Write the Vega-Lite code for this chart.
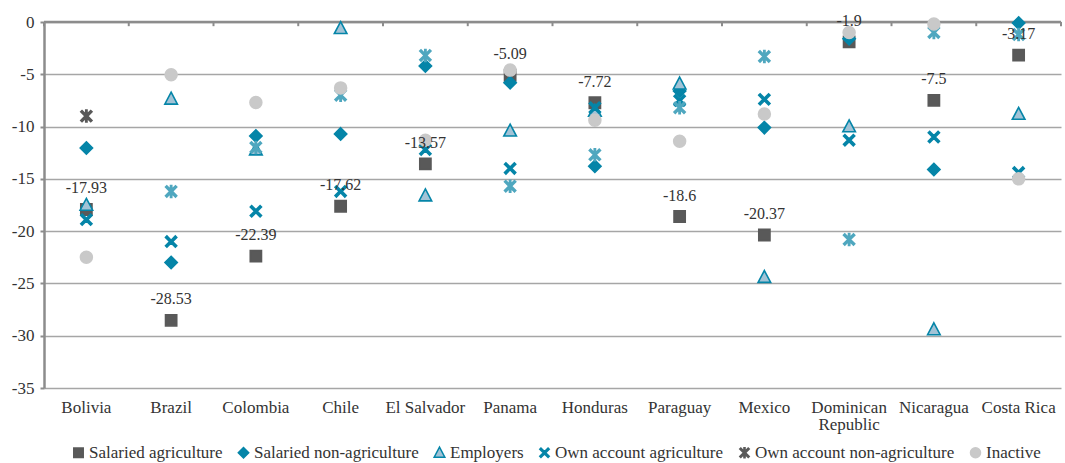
{
  "$schema": "https://vega.github.io/schema/vega-lite/v6.json",
  "width": 1017,
  "height": 366,
  "autosize": {"type": "none"},
  "padding": {"left": 44, "top": 22, "right": 4, "bottom": 75},
  "background": "white",
  "config": {
    "view": {"stroke": null},
    "font": "Liberation Serif, DejaVu Serif, serif",
    "axisY": {
      "title": null, "values": [-35, -30, -25, -20, -15, -10, -5, 0],
      "grid": true, "gridColor": "#a6a6a6", "gridWidth": 1.3,
      "domain": true, "domainColor": "#8c8c8c", "domainWidth": 2.5,
      "ticks": true, "tickColor": "#8c8c8c", "tickSize": 4, "tickWidth": 2,
      "labelFont": "Liberation Serif, DejaVu Serif, serif", "labelFontSize": 17, "labelColor": "#333333",
      "labelPadding": 6
    },
    "axisX": {
      "title": null, "domain": false, "ticks": false, "grid": false,
      "labelAngle": 0, "labelFont": "Liberation Serif, DejaVu Serif, serif", "labelFontSize": 17,
      "labelColor": "#333333", "labelPadding": 11, "labelLineHeight": 17
    },
    "legend": {
      "orient": "none",
      "legendX": 26,
      "legendY": 422,
      "direction": "horizontal",
      "title": null,
      "labelFont": "Liberation Serif, DejaVu Serif, serif",
      "labelFontSize": 17,
      "labelColor": "#333333",
      "labelLimit": 400,
      "symbolSize": 140,
      "symbolStrokeWidth": 1.5,
      "labelOffset": 2,
      "columnPadding": 12,
      "padding": 0
    }
  },
  "data": {
    "values": [
      {"country": "Bolivia", "series": "Salaried agriculture", "value": -17.93},
      {"country": "Brazil", "series": "Salaried agriculture", "value": -28.53},
      {"country": "Colombia", "series": "Salaried agriculture", "value": -22.39},
      {"country": "Chile", "series": "Salaried agriculture", "value": -17.62},
      {"country": "El Salvador", "series": "Salaried agriculture", "value": -13.57},
      {"country": "Panama", "series": "Salaried agriculture", "value": -5.09},
      {"country": "Honduras", "series": "Salaried agriculture", "value": -7.72},
      {"country": "Paraguay", "series": "Salaried agriculture", "value": -18.6},
      {"country": "Mexico", "series": "Salaried agriculture", "value": -20.37},
      {"country": "Dominican Republic", "series": "Salaried agriculture", "value": -1.9},
      {"country": "Nicaragua", "series": "Salaried agriculture", "value": -7.5},
      {"country": "Costa Rica", "series": "Salaried agriculture", "value": -3.17},

      {"country": "Bolivia", "series": "Salaried non-agriculture", "value": -12.05},
      {"country": "Brazil", "series": "Salaried non-agriculture", "value": -23.0},
      {"country": "Colombia", "series": "Salaried non-agriculture", "value": -10.9},
      {"country": "Chile", "series": "Salaried non-agriculture", "value": -10.7},
      {"country": "El Salvador", "series": "Salaried non-agriculture", "value": -4.2},
      {"country": "Panama", "series": "Salaried non-agriculture", "value": -5.8},
      {"country": "Honduras", "series": "Salaried non-agriculture", "value": -13.8},
      {"country": "Paraguay", "series": "Salaried non-agriculture", "value": -6.6},
      {"country": "Mexico", "series": "Salaried non-agriculture", "value": -10.1},
      {"country": "Dominican Republic", "series": "Salaried non-agriculture", "value": -1.6},
      {"country": "Nicaragua", "series": "Salaried non-agriculture", "value": -14.1},
      {"country": "Costa Rica", "series": "Salaried non-agriculture", "value": -0.1},

      {"country": "Bolivia", "series": "Employers", "value": -17.5},
      {"country": "Brazil", "series": "Employers", "value": -7.35},
      {"country": "Colombia", "series": "Employers", "value": -12.2},
      {"country": "Chile", "series": "Employers", "value": -0.6},
      {"country": "El Salvador", "series": "Employers", "value": -16.6},
      {"country": "Panama", "series": "Employers", "value": -10.4},
      {"country": "Honduras", "series": "Employers", "value": -8.5},
      {"country": "Paraguay", "series": "Employers", "value": -5.9},
      {"country": "Mexico", "series": "Employers", "value": -24.4},
      {"country": "Dominican Republic", "series": "Employers", "value": -10.0},
      {"country": "Nicaragua", "series": "Employers", "value": -29.4},
      {"country": "Costa Rica", "series": "Employers", "value": -8.8},

      {"country": "Bolivia", "series": "Own account agriculture", "value": -18.9},
      {"country": "Brazil", "series": "Own account agriculture", "value": -21.0},
      {"country": "Colombia", "series": "Own account agriculture", "value": -18.1},
      {"country": "Chile", "series": "Own account agriculture", "value": -16.2},
      {"country": "El Salvador", "series": "Own account agriculture", "value": -12.2},
      {"country": "Panama", "series": "Own account agriculture", "value": -14.0},
      {"country": "Honduras", "series": "Own account agriculture", "value": -8.2},
      {"country": "Paraguay", "series": "Own account agriculture", "value": -7.5},
      {"country": "Mexico", "series": "Own account agriculture", "value": -7.4},
      {"country": "Dominican Republic", "series": "Own account agriculture", "value": -11.3},
      {"country": "Nicaragua", "series": "Own account agriculture", "value": -11.0},
      {"country": "Costa Rica", "series": "Own account agriculture", "value": -14.4},

      {"country": "Bolivia", "series": "Own account non-agriculture", "value": -9.0},
      {"country": "Brazil", "series": "Own account non-agriculture", "value": -16.2},
      {"country": "Colombia", "series": "Own account non-agriculture", "value": -12.0},
      {"country": "Chile", "series": "Own account non-agriculture", "value": -7.0},
      {"country": "El Salvador", "series": "Own account non-agriculture", "value": -3.2},
      {"country": "Panama", "series": "Own account non-agriculture", "value": -15.7},
      {"country": "Honduras", "series": "Own account non-agriculture", "value": -12.7},
      {"country": "Paraguay", "series": "Own account non-agriculture", "value": -8.2},
      {"country": "Mexico", "series": "Own account non-agriculture", "value": -3.3},
      {"country": "Dominican Republic", "series": "Own account non-agriculture", "value": -20.8},
      {"country": "Nicaragua", "series": "Own account non-agriculture", "value": -1.0},
      {"country": "Costa Rica", "series": "Own account non-agriculture", "value": -1.2},

      {"country": "Bolivia", "series": "Inactive", "value": -22.5},
      {"country": "Brazil", "series": "Inactive", "value": -5.05},
      {"country": "Colombia", "series": "Inactive", "value": -7.7},
      {"country": "Chile", "series": "Inactive", "value": -6.3},
      {"country": "El Salvador", "series": "Inactive", "value": -11.3},
      {"country": "Panama", "series": "Inactive", "value": -4.6},
      {"country": "Honduras", "series": "Inactive", "value": -9.4},
      {"country": "Paraguay", "series": "Inactive", "value": -11.4},
      {"country": "Mexico", "series": "Inactive", "value": -8.8},
      {"country": "Dominican Republic", "series": "Inactive", "value": -1.0},
      {"country": "Nicaragua", "series": "Inactive", "value": -0.2},
      {"country": "Costa Rica", "series": "Inactive", "value": -15.0}
    ]
  },
  "layer": [
    {
      "transform": [{"filter": "datum.series == 'Salaried agriculture' && datum.country == 'Bolivia'"}],
      "mark": {"type": "rule", "color": "#8c8c8c", "strokeWidth": 2.5},
      "encoding": {
        "y": {"datum": 0, "type": "quantitative", "scale": {"domain": [-35, 0], "nice": false, "zero": false}, "axis": {"labelExpr": "'' + datum.value"}}
      }
    },
    {
      "transform": [{"filter": "datum.series == 'Salaried agriculture'"}],
      "mark": {"type": "rule", "color": "#8c8c8c", "strokeWidth": 2},
      "encoding": {
        "x": {"field": "country", "type": "nominal", "sort": null, "bandPosition": 0,
              "axis": {"labelExpr": "datum.label == 'Dominican Republic' ? ['Dominican', 'Republic'] : datum.label"}},
        "y": {"datum": 0, "type": "quantitative", "axis": {"labelExpr": "'' + datum.value"}},
        "y2": {"datum": -0.4}
      }
    },
    {
      "transform": [{"filter": "datum.series == 'Salaried agriculture' && datum.country == 'Costa Rica'"}],
      "mark": {"type": "rule", "color": "#8c8c8c", "strokeWidth": 2},
      "encoding": {
        "x": {"field": "country", "type": "nominal", "sort": null, "bandPosition": 1,
              "axis": {"labelExpr": "datum.label == 'Dominican Republic' ? ['Dominican', 'Republic'] : datum.label"}},
        "y": {"datum": 0, "type": "quantitative", "axis": {"labelExpr": "'' + datum.value"}},
        "y2": {"datum": -0.4}
      }
    },
    {
      "mark": {"type": "point", "filled": true, "opacity": 1, "strokeWidth": 1.6},
      "encoding": {
        "x": {
          "field": "country", "type": "nominal", "sort": null,
          "scale": {"type": "band", "paddingInner": 0, "paddingOuter": 0},
          "axis": {"labelExpr": "datum.label == 'Dominican Republic' ? ['Dominican', 'Republic'] : datum.label"}
        },
        "y": {
          "field": "value", "type": "quantitative",
          "axis": {"labelExpr": "'' + datum.value"}
        },
        "shape": {
          "field": "series", "type": "nominal", "title": null,
          "scale": {
            "domain": ["Salaried agriculture", "Salaried non-agriculture", "Employers", "Own account agriculture", "Own account non-agriculture", "Inactive"],
            "range": [
              "M-0.8,-0.8H0.8V0.8H-0.8Z",
              "M0,-0.88L0.88,0L0,0.88L-0.88,0Z",
              "M0,-0.95L0.9,0.75L-0.9,0.75Z",
              "M-0.8,-0.6L-0.6,-0.8L0,-0.2L0.6,-0.8L0.8,-0.6L0.2,0L0.8,0.6L0.6,0.8L0,0.2L-0.6,0.8L-0.8,0.6L-0.2,0Z",
              "M-0.8,-0.62L-0.62,-0.8L0,-0.18L0.62,-0.8L0.8,-0.62L0.18,0L0.8,0.62L0.62,0.8L0,0.18L-0.62,0.8L-0.8,0.62L-0.18,0ZM-0.09,-0.85H0.09V0.85H-0.09Z",
              "M0.85,0A0.85,0.85,0,1,1,-0.85,0A0.85,0.85,0,1,1,0.85,0Z"
            ]
          }
        },
        "fill": {
          "condition": {"test": "datum.series == 'Own account non-agriculture' && datum.country != 'Bolivia'", "value": "#4fa7bf"},
          "field": "series", "type": "nominal", "title": null,
          "scale": {
            "domain": ["Salaried agriculture", "Salaried non-agriculture", "Employers", "Own account agriculture", "Own account non-agriculture", "Inactive"],
            "range": ["#595959", "#0585a8", "#a2c3d6", "#0585a8", "#595959", "#c9c9c9"]
          }
        },
        "stroke": {
          "condition": {"test": "datum.series == 'Own account non-agriculture' && datum.country != 'Bolivia'", "value": "#4fa7bf"},
          "field": "series", "type": "nominal", "title": null,
          "scale": {
            "domain": ["Salaried agriculture", "Salaried non-agriculture", "Employers", "Own account agriculture", "Own account non-agriculture", "Inactive"],
            "range": ["#595959", "#0585a8", "#0585a8", "#0585a8", "#595959", "#c9c9c9"]
          }
        },
        "size": {"value": 196}
      }
    },
    {
      "transform": [{"filter": "datum.series == 'Salaried agriculture'"}],
      "mark": {"type": "text", "dy": -21, "font": "Liberation Serif, DejaVu Serif, serif", "fontSize": 16, "color": "#333333", "baseline": "middle", "align": "center"},
      "encoding": {
        "x": {"field": "country", "type": "nominal", "sort": null,
              "axis": {"labelExpr": "datum.label == 'Dominican Republic' ? ['Dominican', 'Republic'] : datum.label"}},
        "y": {"field": "value", "type": "quantitative", "axis": {"labelExpr": "'' + datum.value"}},
        "text": {"field": "value", "type": "nominal"}
      }
    }
  ]
}
